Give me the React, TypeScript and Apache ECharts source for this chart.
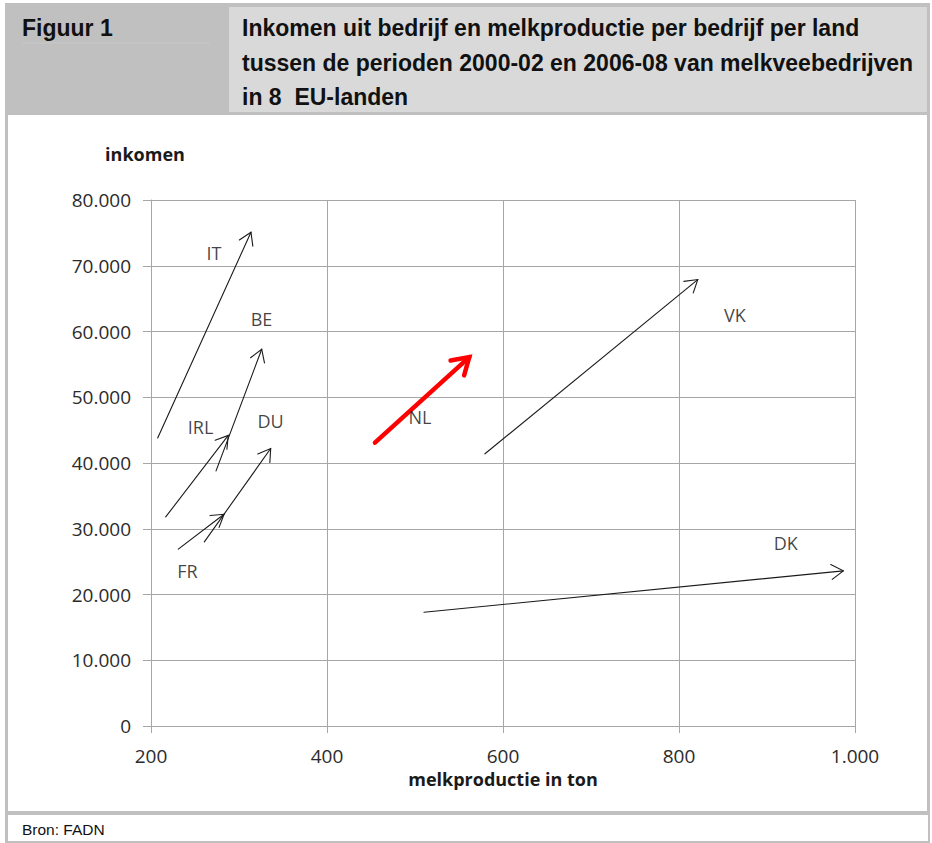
import React, { useEffect, useRef } from "react";
import * as echarts from "echarts";

const countries = ["IT", "BE", "IRL", "DU", "FR", "NL", "VK", "DK"];
const startProduction = [207.6, 273.9, 216.7, 260.6, 231.0, 454.5, 579.5, 510.2];
const startIncome = [43800, 38800, 31800, 28000, 26900, 43100, 41400, 17300];
const endProduction = [313.6, 325.8, 287.8, 336.0, 283.0, 561.7, 821.3, 986.7];
const endIncome = [75100, 57300, 44200, 42200, 32200, 56100, 67900, 23600];
const labelProduction = [271.6, 325.6, 256.3, 335.8, 241.5, 505.7, 863.6, 921.4];
const labelIncome = [71900, 61900, 45500, 46400, 23500, 47000, 62500, 27800];
const highlighted = ["NL"];

const xTicks = { min: 200, max: 1000, interval: 200 };
const yTicks = { min: 0, max: 80000, interval: 10000 };

const figureLabel = "Figuur 1";
const titleLines = [
  "Inkomen uit bedrijf en melkproductie per bedrijf per land",
  "tussen de perioden 2000-02 en 2006-08 van melkveebedrijven",
  "in 8  EU-landen",
];
const sourceText = "Bron: FADN";
const xName = "melkproductie in ton";
const yName = "inkomen";

const fmt = (v: number) => String(v).replace(/\B(?=(\d{3})+(?!\d))/g, ".");

const HEAD = "'Liberation Sans', Arial, sans-serif";
const BODY = "'Open Sans', 'Noto Sans', sans-serif";

export default function App() {
  const ref = useRef<HTMLDivElement>(null);
  useEffect(() => {
    if (!ref.current) return;
    const chart = echarts.init(ref.current, null, { renderer: "svg" });
    const arrowData = countries.map((c, i) => [
      startProduction[i],
      startIncome[i],
      endProduction[i],
      endIncome[i],
    ]);
    const labelData = countries.map((c, i) => ({
      name: c,
      value: [labelProduction[i], labelIncome[i]],
    }));

    const renderArrow = (params: any, api: any) => {
      const i = params.dataIndex;
      const hot = highlighted.includes(countries[i]);
      const p0 = api.coord([api.value(0), api.value(1)]);
      const p1 = api.coord([api.value(2), api.value(3)]);
      const ang = Math.atan2(p0[1] - p1[1], p0[0] - p1[0]);
      const len = hot ? 19 : 14;
      const spread = (32 * Math.PI) / 180;
      const a1 = [p1[0] + len * Math.cos(ang + spread), p1[1] + len * Math.sin(ang + spread)];
      const a2 = [p1[0] + len * Math.cos(ang - spread), p1[1] + len * Math.sin(ang - spread)];
      const stroke = hot ? "#ff0000" : "#1a1a1a";
      const lw = hot ? 4.5 : 1.1;
      return {
        type: "group",
        children: [
          {
            type: "line",
            shape: { x1: p0[0], y1: p0[1], x2: p1[0], y2: p1[1] },
            style: { stroke, lineWidth: lw, lineCap: "round" },
          },
          {
            type: "polyline",
            shape: { points: [a1, p1, a2] },
            style: { stroke, lineWidth: lw, fill: null, lineCap: "round", lineJoin: "miter" },
          },
        ],
      };
    };

    const option: any = {
      animation: false,
      backgroundColor: "#ffffff",
      graphic: [
        { type: "rect", shape: { x: 5, y: 3, width: 925, height: 112 }, style: { fill: "#c0c0c0" }, silent: true },
        { type: "rect", shape: { x: 229, y: 7, width: 698, height: 105 }, style: { fill: "#d9d9d9" }, silent: true },
        { type: "line", shape: { x1: 22, y1: 43, x2: 210, y2: 43 }, style: { stroke: "#c8c8c8", lineWidth: 1 }, silent: true },
        { type: "rect", shape: { x: 5, y: 115, width: 3, height: 728 }, style: { fill: "#c0c0c0" }, silent: true },
        { type: "rect", shape: { x: 927, y: 115, width: 3, height: 700 }, style: { fill: "#c0c0c0" }, silent: true },
        { type: "rect", shape: { x: 5, y: 811, width: 925, height: 4 }, style: { fill: "#c0c0c0" }, silent: true },
        { type: "rect", shape: { x: 928, y: 815, width: 2, height: 28 }, style: { fill: "#c0c0c0" }, silent: true },
        { type: "rect", shape: { x: 5, y: 841, width: 925, height: 2 }, style: { fill: "#c0c0c0" }, silent: true },
        {
          type: "text",
          x: 22,
          y: 28,
          style: { text: figureLabel, font: `bold 23px ${HEAD}`, fill: "#111111", verticalAlign: "middle", textAlign: "left" },
        },
        ...titleLines.map((t, k) => ({
          type: "text",
          x: 242,
          y: 28 + k * 34.5,
          style: { text: t, font: `bold 23px ${HEAD}`, fill: "#111111", verticalAlign: "middle", textAlign: "left" },
        })),
        {
          type: "text",
          x: 22,
          y: 829,
          style: { text: sourceText, font: `15.5px ${HEAD}`, fill: "#111111", verticalAlign: "middle", textAlign: "left" },
        },
      ],
      grid: { left: 151, top: 200, right: 77, bottom: 117, containLabel: false },
      xAxis: {
        type: "value",
        min: xTicks.min,
        max: xTicks.max,
        interval: xTicks.interval,
        name: xName,
        nameLocation: "middle",
        nameGap: 44,
        nameTextStyle: { fontFamily: BODY, fontWeight: "bold", fontSize: 18, color: "#1a1a1a" },
        axisLine: { show: true, lineStyle: { color: "#a6a6a6", width: 1 } },
        axisTick: { show: true, length: 7, lineStyle: { color: "#a6a6a6" } },
        axisLabel: { formatter: fmt, fontFamily: BODY, fontSize: 19, color: "#2b2b2b", margin: 20 },
        splitLine: { show: true, lineStyle: { color: "#a6a6a6", width: 1 } },
      },
      yAxis: {
        type: "value",
        min: yTicks.min,
        max: yTicks.max,
        interval: yTicks.interval,
        name: yName,
        nameLocation: "end",
        nameGap: 37,
        nameTextStyle: { fontFamily: BODY, fontWeight: "bold", fontSize: 18, color: "#1a1a1a", align: "center", padding: [0, 12, 0, 0] },
        axisLine: { show: true, lineStyle: { color: "#a6a6a6", width: 1 } },
        axisTick: { show: true, length: 8, lineStyle: { color: "#a6a6a6" } },
        axisLabel: { formatter: fmt, fontFamily: BODY, fontSize: 19, color: "#2b2b2b", margin: 20 },
        splitLine: { show: true, lineStyle: { color: "#a6a6a6", width: 1 } },
      },
      series: [
        {
          type: "custom",
          name: "arrows",
          renderItem: renderArrow,
          data: arrowData,
          encode: { x: [0, 2], y: [1, 3] },
          clip: false,
          silent: true,
          z: 3,
        },
        {
          type: "scatter",
          name: "labels",
          data: labelData,
          symbolSize: 0,
          silent: true,
          z: 4,
          label: {
            show: true,
            position: "inside",
            formatter: (p: any) => p.name,
            fontFamily: BODY,
            fontSize: 18,
            color: "#111111",
          },
        },
      ],
    };
    chart.setOption(option);
    return () => chart.dispose();
  }, []);
  return (
    <div
      ref={ref}
      style={{ position: "absolute", left: 0, top: 0, width: 932, height: 843, background: "#ffffff" }}
    />
  );
}
